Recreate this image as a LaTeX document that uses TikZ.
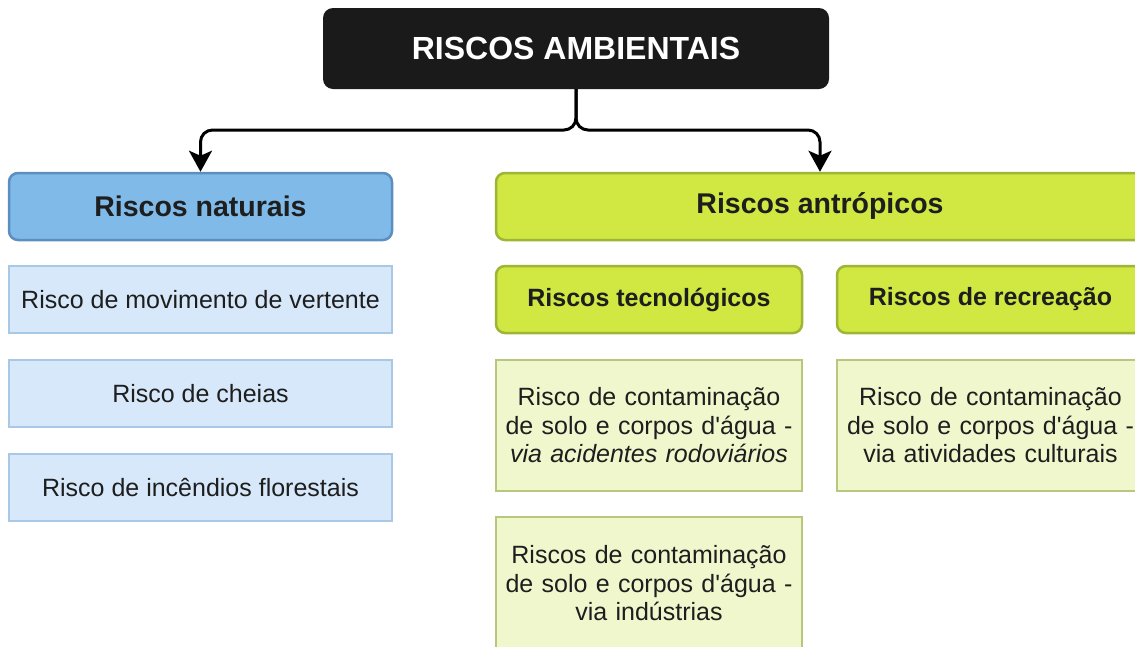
\documentclass[tikz,border=0pt]{standalone}
\usepackage{fontspec}
\setmainfont{Liberation Sans}
\usetikzlibrary{arrows.meta}
\definecolor{topfill}{HTML}{1A1A1A}
\definecolor{natfill}{HTML}{7FBAE9}
\definecolor{natdraw}{HTML}{5C8EBE}
\definecolor{nsubfill}{HTML}{D6E8F9}
\definecolor{nsubdraw}{HTML}{A9C8E6}
\definecolor{antfill}{HTML}{D0E841}
\definecolor{antdraw}{HTML}{9FB536}
\definecolor{asubfill}{HTML}{F0F7CD}
\definecolor{asubdraw}{HTML}{B7C77D}
\definecolor{txt}{HTML}{1E1E1E}
\tikzset{
  topbox/.style={fill=topfill, rounded corners=10pt, inner sep=0pt, text=white,
    font=\fontsize{32}{36}\selectfont\bfseries},
  natbox/.style={fill=natfill, draw=natdraw, line width=2.5pt, rounded corners=9pt, inner sep=0pt,
    text=txt, font=\fontsize{28.5}{32}\selectfont\bfseries},
  nsub/.style={fill=nsubfill, draw=nsubdraw, line width=1.6pt, inner sep=0pt,
    text=txt, font=\fontsize{25}{28.5}\selectfont},
  antbox/.style={fill=antfill, draw=antdraw, line width=2.5pt, rounded corners=9pt, inner sep=0pt,
    text=txt, font=\fontsize{28.5}{32}\selectfont\bfseries},
  antsub/.style={fill=antfill, draw=antdraw, line width=2.5pt, rounded corners=9pt, inner sep=0pt,
    text=txt, font=\fontsize{25}{28.5}\selectfont\bfseries},
  asub/.style={fill=asubfill, draw=asubdraw, line width=1.6pt, inner sep=0pt,
    text=txt, font=\fontsize{25}{28.5}\selectfont, align=center},
  conn/.style={draw=black, line width=3pt, rounded corners=12pt,
    -{Stealth[length=21pt, width=23pt, inset=5pt]}}
}
\begin{document}
\begin{tikzpicture}[x=1pt, y=-1pt]
\useasboundingbox (0,0) rectangle (1135,646);
\clip (0,0) rectangle (1135,646);
\fill[white] (0,0) rectangle (1135,646);

\node[topbox, minimum width=506pt, minimum height=81pt] (top) at (576,48.5) {RISCOS AMBIENTAIS};

\node[natbox, minimum width=383pt, minimum height=67pt] (nat) at (200.5,206.5) {Riscos naturais};
\node[nsub, minimum width=383pt, minimum height=67pt] (n1) at (200.5,299.5) {Risco de movimento de vertente};
\node[nsub, minimum width=383pt, minimum height=67pt] (n2) at (200.5,393.5) {Risco de cheias};
\node[nsub, minimum width=383pt, minimum height=67pt] (n3) at (200.5,487.5) {Risco de incêndios florestais};

\node[antbox, minimum width=648pt, minimum height=67pt] (ant) at (820,206.5) {Riscos antrópicos};
\node[antsub, minimum width=306pt, minimum height=67pt] (tec) at (649,299.5) {Riscos tecnológicos};
\node[antsub, minimum width=307pt, minimum height=67pt] (rec) at (990.5,299.5) {Riscos de recreação};

\node[asub, minimum width=306pt, minimum height=131pt, text width=300pt] (t1) at (649,425.5)
  {Risco de contaminação\\de solo e corpos d\textquotesingle água -\\\textit{via acidentes rodoviários}};
\node[asub, minimum width=307pt, minimum height=131pt, text width=300pt] (r1) at (990.5,425.5)
  {Risco de contaminação\\de solo e corpos d\textquotesingle água -\\via atividades culturais};
\node[asub, minimum width=306pt, minimum height=133pt, text width=300pt] (t2) at (649,583.5)
  {Riscos de contaminação\\de solo e corpos d\textquotesingle água -\\via indústrias};

\coordinate (split) at (576,130);
\draw[conn] (top.south) -- (split) -| (nat.north);
\draw[conn] (top.south) -- (split) -| (ant.north);
\end{tikzpicture}
\end{document}
